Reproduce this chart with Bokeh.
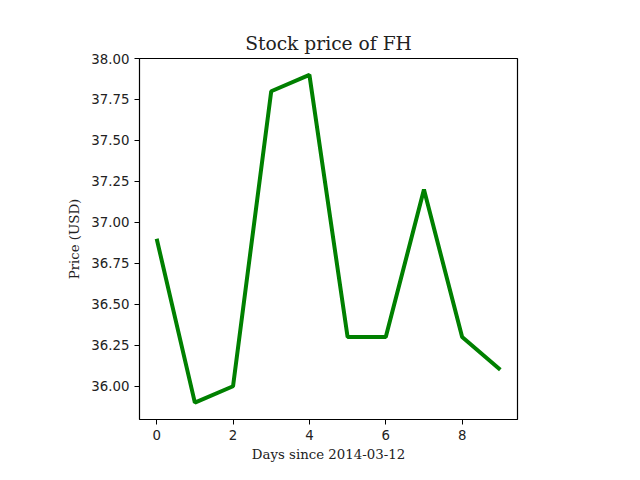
from bokeh.plotting import figure
from bokeh.models import FixedTicker, NumeralTickFormatter, Range1d
from bokeh.embed import file_html
from bokeh.resources import INLINE

days = [0, 1, 2, 3, 4, 5, 6, 7, 8, 9]
price = [36.9, 35.9, 36.0, 37.8, 37.9, 36.3, 36.3, 37.2, 36.3, 36.1]
x_ticks = [0, 2, 4, 6, 8]
y_ticks = [36.0, 36.25, 36.5, 36.75, 37.0, 37.25, 37.5, 37.75, 38.0]

p = figure(width=624, height=464, output_backend="svg", toolbar_location=None,
           x_range=Range1d(-0.45, 9.45), y_range=Range1d(35.797, 38.0),
           min_border_left=139, min_border_right=107, min_border_top=58, min_border_bottom=37,
           title="Stock price of FH")
p.line(days, price, line_color="green", line_width=4)

p.title.align = "center"
p.title.text_font = "DejaVu Serif"
p.title.text_font_size = "14pt"
p.title.text_font_style = "normal"
p.title.text_color = "#222222"
p.grid.visible = False
p.outline_line_color = "black"
p.outline_line_width = 1.2

p.xaxis.ticker = FixedTicker(ticks=x_ticks)
p.yaxis.ticker = FixedTicker(ticks=y_ticks)
p.yaxis.formatter = NumeralTickFormatter(format="0.00")
p.xaxis.axis_label = "Days since 2014-03-12"
p.yaxis.axis_label = "Price (USD)"
for ax in (p.xaxis, p.yaxis):
    ax.axis_label_text_font = "DejaVu Serif"
    ax.axis_label_text_font_style = "normal"
    ax.axis_label_text_font_size = "10pt"
    ax.axis_label_text_color = "#222222"
    ax.major_label_text_font = "DejaVu Sans"
    ax.major_label_text_font_size = "10pt"
    ax.major_label_text_color = "#222222"
    ax.minor_tick_line_color = None
    ax.major_tick_in = 0
    ax.major_tick_out = 5
    ax.axis_line_color = None
p.xaxis.axis_label_standoff = 4
p.yaxis.axis_label_standoff = 6

open("out.html", "w").write(file_html(p, INLINE))
